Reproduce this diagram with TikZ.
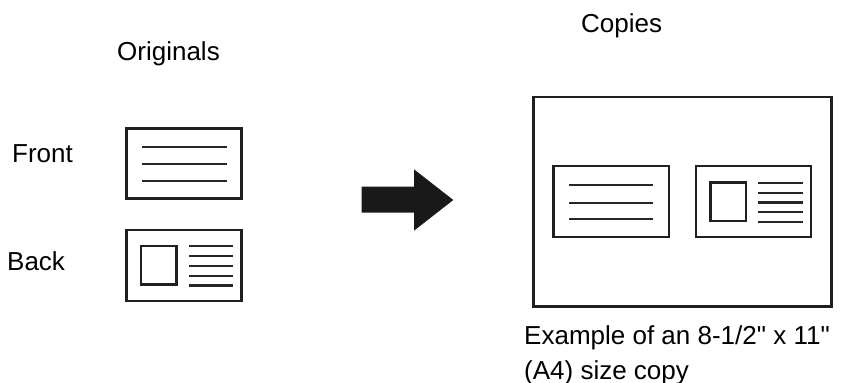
\documentclass[tikz,border=0pt]{standalone}
\usepackage{fontspec}
\setmainfont{Liberation Sans}
\usetikzlibrary{positioning}

\begin{document}
\begin{tikzpicture}[x=1pt,y=-1pt,
  txt/.style={inner sep=0pt, anchor=base west, font=\fontsize{26}{34.7}\selectfont},
  card/.style={draw=black!88, line width=2.4pt, inner sep=0pt},
  rule/.style={draw=black!85, line width=2.2pt}]
\useasboundingbox (0,0) rectangle (841,383);
% titles and labels
\node[txt] (originals) at (117,60) {Originals};
\node[txt] (copies) at (581,32) {Copies};
\node[txt] (frontlabel) at (12,162) {Front};
\node[txt] (backlabel) at (7,270) {Back};
\node[txt, align=left] (caption) at (524,379)
  {Example of an 8-1/2\textquotedbl{} x 11\textquotedbl\\(A4) size copy};
% originals
\node[card, minimum width=115pt, minimum height=70pt] (front) at (184,163.5) {};
\node[card, minimum width=115pt, minimum height=71pt] (back) at (184,265.3) {};
\foreach \y in {146.7,164,180.7}
  \draw[rule] (142,\y) -- (227,\y);
\draw[card] (141.2,246.2) rectangle (176.5,284.5);
\foreach \y in {246.3,256.1,265.9,275.7,285.5}
  \draw[rule] (189,\y) -- (232.7,\y);
% arrow
\fill[black!90] (361.7,186.7) -- (414,186.7) -- (414,169.3) -- (453.3,200)
  -- (414,230.7) -- (414,212.7) -- (361.7,212.7) -- cycle;
% copy page
\node[card, minimum width=298pt, minimum height=209.5pt] (page) at (682.5,201.75) {};
\node[card, minimum width=115.6pt, minimum height=70.9pt] (copyfront) at (611.3,201.65) {};
\node[card, minimum width=114.9pt, minimum height=70.9pt] (copyback) at (753.65,201.65) {};
\foreach \y in {185.3,202.7,219}
  \draw[rule] (569,\y) -- (653.3,\y);
\draw[card] (710.5,182.5) rectangle (745.8,221.1);
\foreach \y in {182.8,192.6,202.4,212.2,222}
  \draw[rule] (758.3,\y) -- (802.7,\y);
\end{tikzpicture}
\end{document}
